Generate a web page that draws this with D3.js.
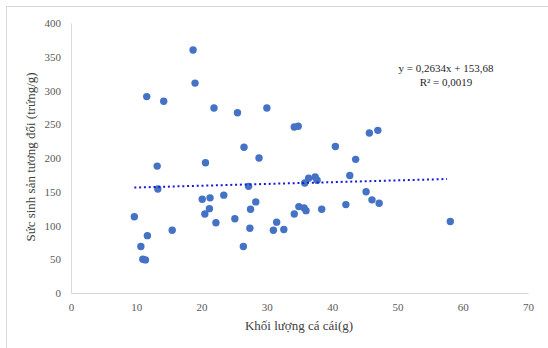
<!DOCTYPE html>
<html>
<head>
<meta charset="utf-8">
<script src="https://cdn.jsdelivr.net/npm/d3@7"></script>
<style>
  body { margin: 0; background: #fff; }
  svg { display: block; font-family: "Liberation Serif", "Times New Roman", serif; }
</style>
</head>
<body>
<svg id="chart" width="548" height="348"></svg>
<script>
// khối lượng cá cái (g)
const weight = [18.7, 19.0, 11.6, 14.2, 21.9, 25.5, 30.0, 34.2, 34.8, 45.7, 47.0, 26.5,
  40.5, 28.8, 43.6, 20.6, 13.2, 42.7, 36.4, 37.4, 37.7, 35.8, 13.3, 27.2, 45.2, 23.4,
  21.3, 20.1, 28.3, 46.1, 47.2, 42.1, 34.9, 35.7, 36.0, 38.4, 27.5, 21.2, 20.5, 34.2,
  9.7, 25.1, 22.2, 31.5, 58.1, 27.4, 31.0, 32.6, 15.5, 11.7, 10.7, 26.4, 11.0, 11.4]
// sức sinh sản tương đối (trứng/g)
const fecundity = [360, 311, 291, 284, 274, 267, 274, 246, 247, 237, 241, 216,
  217, 200, 198, 193, 188, 174, 170, 172, 167, 163, 154, 158, 150, 145,
  141, 139, 135, 138, 133, 131, 128, 126, 122, 124, 124, 125, 117, 117,
  113, 110, 104, 105, 106, 96, 93, 94, 93, 85, 69, 69, 50, 49]

const xTicks = [0, 10, 20, 30, 40, 50, 60, 70]
const yTicks = [0, 50, 100, 150, 200, 250, 300, 350, 400]
const slope = 0.2634, intercept = 153.68
const trendRange = [9.7, 57.6]

const svg = d3.select('#chart')

// chart frame
svg.append('rect')
  .attr('x', 6.5).attr('y', 6.5)
  .attr('width', 560).attr('height', 360)
  .attr('fill', 'none').attr('stroke', '#d9d9d9')

const x = d3.scaleLinear().domain([0, 70]).range([71, 528])
const y = d3.scaleLinear().domain([0, 400]).range([293, 23])

// axes
const xAxis = svg.append('g')
  .attr('transform', `translate(0,${y(0)})`)
  .call(d3.axisBottom(x).tickValues(xTicks).tickSize(0).tickPadding(10))
xAxis.select('.domain').attr('stroke', '#d9d9d9')

const yAxis = svg.append('g')
  .attr('transform', `translate(${x(0)},0)`)
  .call(d3.axisLeft(y).tickValues(yTicks).tickSize(0).tickPadding(10))
yAxis.select('.domain').attr('stroke', '#d9d9d9')

svg.selectAll('.tick text')
  .attr('fill', '#595959')
  .style('font-family', '"Liberation Serif", serif')
  .style('font-size', '11px')

// points
svg.append('g')
  .selectAll('circle')
  .data(weight.map((w, i) => [w, fecundity[i]]))
  .join('circle')
    .attr('cx', (d) => x(d[0]))
    .attr('cy', (d) => y(d[1]))
    .attr('r', 3.7)
    .attr('fill', '#4472c4')

// linear trendline
svg.append('line')
  .attr('x1', x(trendRange[0])).attr('y1', y(slope * trendRange[0] + intercept))
  .attr('x2', x(trendRange[1])).attr('y2', y(slope * trendRange[1] + intercept))
  .attr('stroke', '#1a1ad6')
  .attr('stroke-width', 2)
  .attr('stroke-dasharray', '2 2.8')

// equation
const eq = svg.append('text')
  .attr('text-anchor', 'middle')
  .attr('fill', '#262626')
  .style('font-size', '11px')
eq.append('tspan').attr('x', 446).attr('y', 72).text('y = 0,2634x + 153,68')
eq.append('tspan').attr('x', 446).attr('y', 86).text('R² = 0,0019')

// axis titles
svg.append('text')
  .attr('x', 299).attr('y', 330)
  .attr('text-anchor', 'middle')
  .attr('fill', '#404040')
  .style('font-size', '13px')
  .text('Khối lượng cá cái(g)')

svg.append('text')
  .attr('transform', 'translate(35,157) rotate(-90)')
  .attr('text-anchor', 'middle')
  .attr('fill', '#404040')
  .style('font-size', '13px')
  .text('Sức sinh sản tương đối (trứng/g)')
</script>
</body>
</html>
